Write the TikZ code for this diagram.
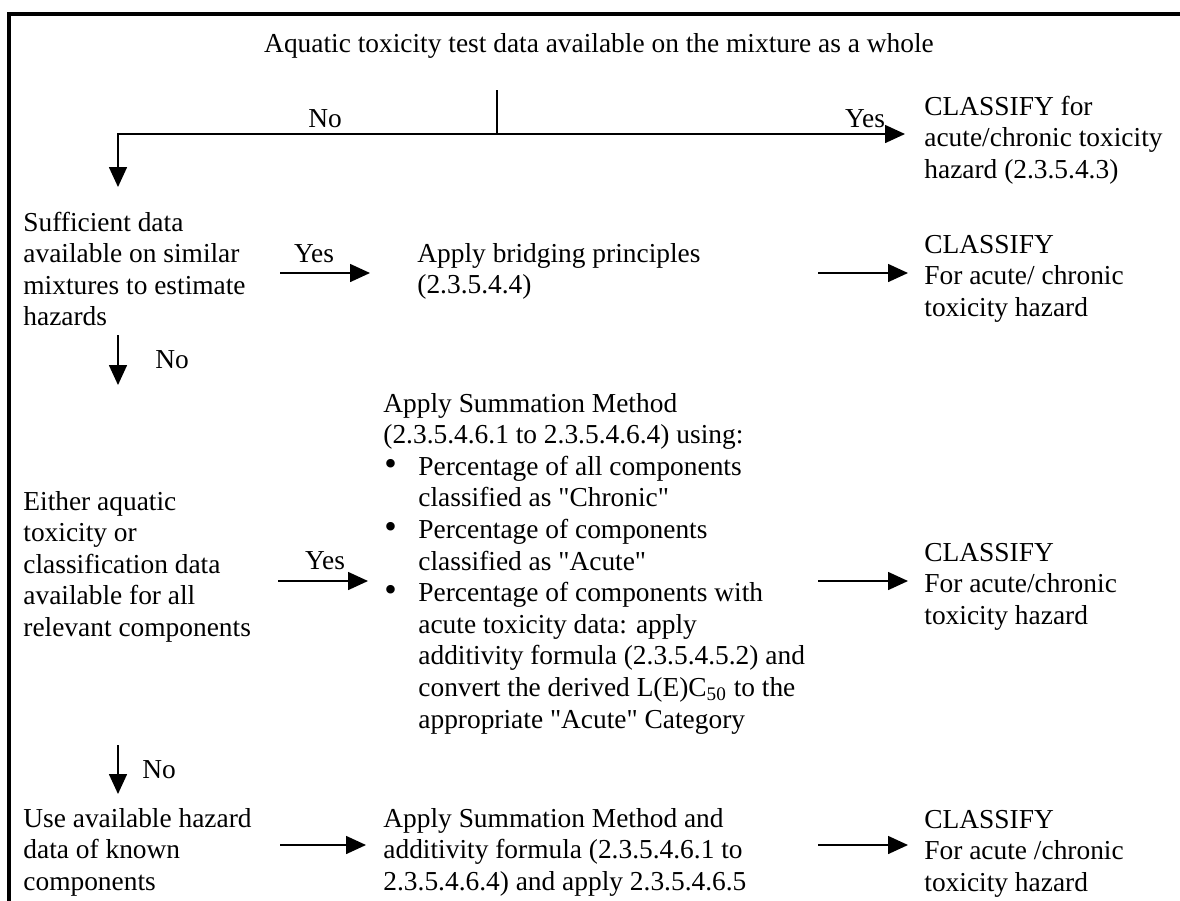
\documentclass[tikz,border=0pt]{standalone}
\usepackage{fontspec}
\setmainfont{Liberation Serif}
\usetikzlibrary{arrows.meta}
\tikzset{
  txt/.style={anchor=base west,inner sep=0pt,font=\fontsize{13.7}{15.8}\selectfont},
  lbl/.style={anchor=base,inner sep=0pt,font=\fontsize{13.7}{15.8}\selectfont},
  link/.style={line width=0.8pt},
  arr/.style={line width=0.8pt,-{Triangle[length=10pt,width=9pt]}},
}
\newcommand{\txtlines}[1]{\begin{tabular}[t]{@{}l@{}}#1\end{tabular}}
\newcommand{\bitem}{\hspace*{0.5pt}\makebox[17pt][l]{\scalebox{1.3}{\textbullet}}}
\newcommand{\bcont}{\hspace*{17.5pt}}
\newcommand{\q}[1]{\textquotedbl #1\textquotedbl}
\begin{document}
\begin{tikzpicture}[x=0.5pt,y=-0.5pt]
\useasboundingbox (0,0) rectangle (1180,901);
% frame
\draw [line width=2pt,line join=miter] (9,901)--(9,14)--(1180,14);

% top question
\node[lbl] (title) at (599,52) {Aquatic toxicity test data available on the mixture as a whole};
\coordinate (stem) at (497,90); \coordinate (fork) at (497,134);
\coordinate (turn) at (118,134); \coordinate (noA) at (118,187);
\coordinate (yesA) at (905,134);
\draw [link] (stem)--(fork);
\draw [arr] (fork)--(turn)--(noA);
\draw [arr] (fork)--(yesA);
\node[lbl] (lnoA) at (325,127) {No};
\node[lbl] (lyesA) at (865,127) {Yes};
\node[txt] (clsA) at (924,115) {\txtlines{CLASSIFY for\\acute/chronic toxicity\\hazard (2.3.5.4.3)}};

% similar mixtures
\node[txt] (qB) at (23,231) {\txtlines{Sufficient data\\available on similar\\mixtures to estimate\\hazards}};
\node[txt] (actB) at (417,262) {\txtlines{Apply bridging principles\\(2.3.5.4.4)}};
\node[txt] (clsB) at (924,253) {\txtlines{CLASSIFY\\For acute/ chronic\\toxicity hazard}};
\coordinate (yesBs) at (280,273); \coordinate (yesBe) at (370,273);
\coordinate (outBs) at (818,273); \coordinate (outBe) at (908,273);
\draw [arr] (yesBs)--(yesBe);
\draw [arr] (outBs)--(outBe);
\node[lbl] (lyesB) at (314,262) {Yes};
\coordinate (noBs) at (118,335); \coordinate (noBe) at (118,385);
\draw [arr] (noBs)--(noBe);
\node[txt] (lnoB) at (155,368) {No};

% all components
\node[txt] (qC) at (23,510) {\txtlines{Either aquatic\\toxicity or\\classification data\\available for all\\relevant components}};
\node[txt] (actC) at (383,412) {\txtlines{Apply Summation Method\\
(2.3.5.4.6.1 to 2.3.5.4.6.4) using:\\
\bitem Percentage of all components\\
\bcont classified as \q{Chronic}\\
\bitem Percentage of components\\
\bcont classified as \q{Acute}\\
\bitem Percentage of components with\\
\bcont acute toxicity data: apply\\
\bcont additivity formula (2.3.5.4.5.2) and\\
\bcont convert the derived L(E)C\textsubscript{50} to the\\
\bcont appropriate \q{Acute} Category}};
\node[txt] (clsC) at (924,561) {\txtlines{CLASSIFY\\For acute/chronic\\toxicity hazard}};
\coordinate (yesCs) at (278,581); \coordinate (yesCe) at (368,581);
\coordinate (outCs) at (818,581); \coordinate (outCe) at (908,581);
\draw [arr] (yesCs)--(yesCe);
\draw [arr] (outCs)--(outCe);
\node[lbl] (lyesC) at (325,569) {Yes};
\coordinate (noCs) at (118,745); \coordinate (noCe) at (118,794);
\draw [arr] (noCs)--(noCe);
\node[txt] (lnoC) at (142,778) {No};

% known components
\node[txt] (qD) at (23,827) {\txtlines{Use available hazard\\data of known\\components}};
\node[txt] (actD) at (383,827) {\txtlines{Apply Summation Method and\\additivity formula (2.3.5.4.6.1 to\\2.3.5.4.6.4) and apply 2.3.5.4.6.5}};
\node[txt] (clsD) at (924,828) {\txtlines{CLASSIFY\\For acute /chronic\\toxicity hazard}};
\coordinate (inDs) at (280,845); \coordinate (inDe) at (366,845);
\coordinate (outDs) at (818,845); \coordinate (outDe) at (908,845);
\draw [arr] (inDs)--(inDe);
\draw [arr] (outDs)--(outDe);
\end{tikzpicture}
\end{document}
